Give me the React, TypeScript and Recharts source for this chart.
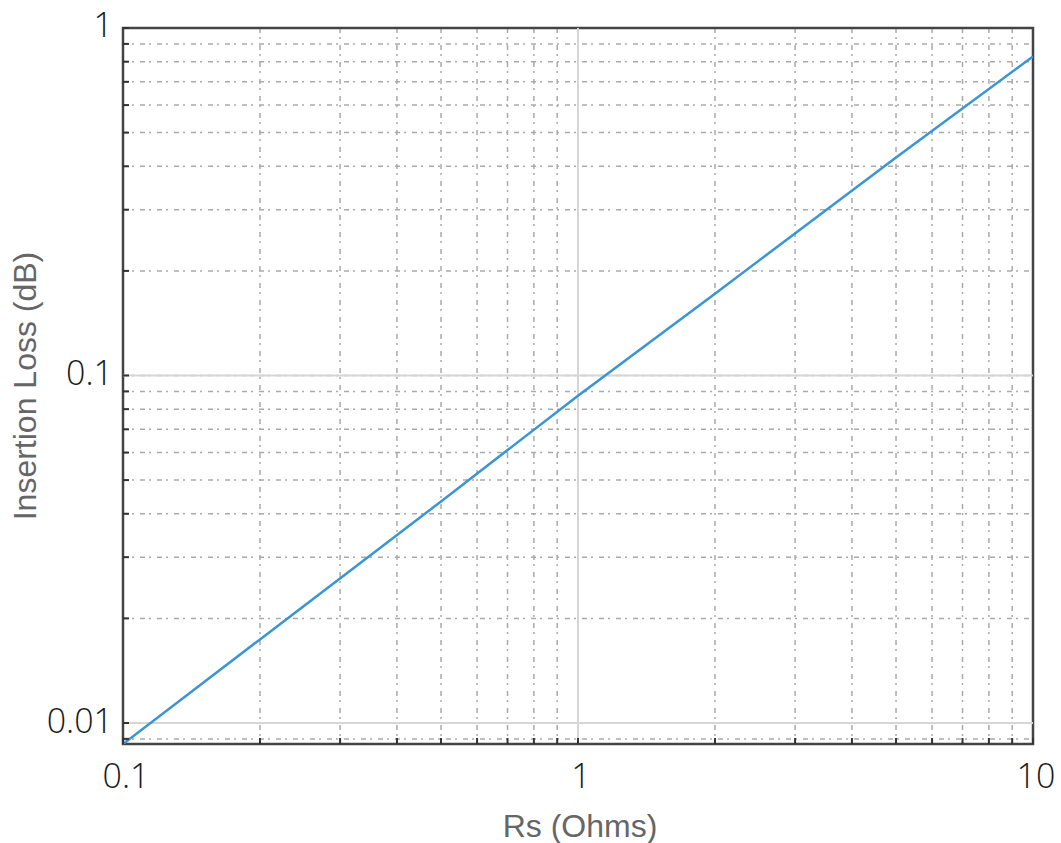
import React from "react";
import {
  LineChart,
  Line,
  XAxis,
  YAxis,
  CartesianGrid,
  ReferenceLine,
  ReferenceArea,
  Label,
} from "recharts";

// Series resistance vs. insertion loss, read at a handful of points
const rsOhms = [0.1, 0.2, 0.5, 1, 2, 5, 10];
const lossDb = [0.0087, 0.0174, 0.0434, 0.0875, 0.172, 0.424, 0.828];

const xMajor = [0.1, 1, 10];
const xMinor = [0.2, 0.3, 0.4, 0.5, 0.6, 0.7, 0.8, 0.9, 2, 3, 4, 5, 6, 7, 8, 9];
const yMajor = [0.01, 0.1, 1];
const yMinor = [
  0.009, 0.02, 0.03, 0.04, 0.05, 0.06, 0.07, 0.08, 0.09,
  0.2, 0.3, 0.4, 0.5, 0.6, 0.7, 0.8, 0.9,
];
const xLabels = ["0.1", "1", "10"];
const yLabels = ["0.01", "0.1", "1"];

const data = rsOhms.map((rs, i) => ({ rs, loss: lossDb[i] }));

const X_DOMAIN: [number, number] = [0.1, 10];
const Y_DOMAIN: [number, number] = [0.0087, 1];

const tickFont = "'Open Sans', 'DejaVu Sans', sans-serif";
const titleFont = "'Liberation Sans', Arial, sans-serif";

function YTick(props: any) {
  const { x, y, payload } = props;
  const idx = yMajor.indexOf(payload.value);
  return (
    <g>
      <line x1={x} x2={x + 6} y1={y} y2={y} stroke="#333" strokeWidth={2} />
      {idx >= 0 && (
        <text
          x={x - 10}
          y={y + (payload.value === 1 ? -4 : -3)}
          textAnchor="end"
          dominantBaseline="central"
          fontFamily={tickFont}
          fontSize={34}
          fontWeight={300}
          fill="#1a1a1a"
        >
          {yLabels[idx]}
        </text>
      )}
    </g>
  );
}

function XTick(props: any) {
  const { x, y, payload } = props;
  const idx = xMajor.indexOf(payload.value);
  return (
    <g>
      <line x1={x} x2={x} y1={y} y2={y - 6} stroke="#333" strokeWidth={2} />
      {idx >= 0 && (
        <text
          x={x + 3}
          y={y + 31}
          textAnchor="middle"
          dominantBaseline="central"
          fontFamily={tickFont}
          fontSize={34}
          fontWeight={300}
          fill="#1a1a1a"
        >
          {xLabels[idx]}
        </text>
      )}
    </g>
  );
}

export default function App() {
  return (
    <div
      style={{
        position: "absolute",
        left: 0,
        top: 0,
        width: 1061,
        height: 843,
        background: "#fff",
      }}
    >
      <LineChart
        width={1061}
        height={843}
        data={data}
        margin={{ top: 28, right: 28, bottom: 0, left: 0 }}
        style={{ overflow: "visible" }}
      >
        <CartesianGrid
          stroke="#aaa"
          strokeWidth={1.5}
          strokeDasharray="5 4 2 6"
        />
        <XAxis
          dataKey="rs"
          type="number"
          scale="log"
          domain={X_DOMAIN}
          ticks={[...xMajor, ...xMinor]}
          allowDataOverflow
          height={99}
          axisLine={false}
          tickLine={false}
          tickSize={0}
          tickMargin={0}
          tick={<XTick />}
          interval={0}
        >
          <Label
            content={(p: any) => {
              const vb = p.viewBox;
              return (
                <text
                  x={vb.x + vb.width / 2 + 2}
                  y={vb.y + 82}
                  textAnchor="middle"
                  dominantBaseline="central"
                  fontFamily={titleFont}
                  fontSize={32}
                  fill="#666"
                >
                  Rs (Ohms)
                </text>
              );
            }}
          />
        </XAxis>
        <YAxis
          dataKey="loss"
          type="number"
          scale="log"
          domain={Y_DOMAIN}
          ticks={[...yMajor, ...yMinor]}
          allowDataOverflow
          width={123}
          axisLine={false}
          tickLine={false}
          tickSize={0}
          tickMargin={0}
          tick={<YTick />}
          interval={0}
        >
          <Label
            content={(p: any) => {
              const vb = p.viewBox;
              const cx = 25;
              const cy = vb.y + vb.height / 2;
              return (
                <text
                  x={cx}
                  y={cy}
                  transform={`rotate(-90 ${cx} ${cy})`}
                  textAnchor="middle"
                  dominantBaseline="central"
                  fontFamily={titleFont}
                  fontSize={32}
                  fill="#666"
                >
                  Insertion Loss (dB)
                </text>
              );
            }}
          />
        </YAxis>
        {yMajor.slice(0, 2).map((v) => (
          <ReferenceLine key={"y" + v} y={v} stroke="#d6d6d6" strokeWidth={2} />
        ))}
        <ReferenceLine x={1} stroke="#d6d6d6" strokeWidth={2} />
        <ReferenceArea
          x1={X_DOMAIN[0]}
          x2={X_DOMAIN[1]}
          y1={Y_DOMAIN[0]}
          y2={Y_DOMAIN[1]}
          fill="none"
          fillOpacity={0}
          stroke="#444"
          strokeWidth={2.5}
          strokeOpacity={1}
        />
        <Line
          type="linear"
          dataKey="loss"
          stroke="#3a95d3"
          strokeWidth={2.5}
          dot={false}
          isAnimationActive={false}
        />
      </LineChart>
    </div>
  );
}
